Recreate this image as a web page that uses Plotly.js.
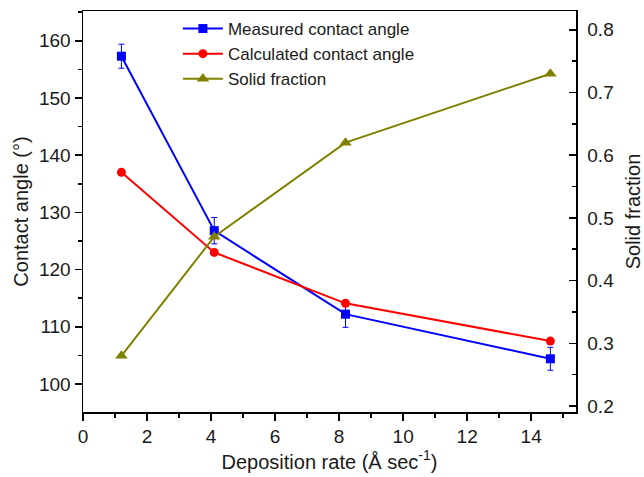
<!DOCTYPE html>
<html>
<head>
<meta charset="utf-8">
<script src="https://cdn.plot.ly/plotly-3.0.1.min.js"></script>
<style>html,body{margin:0;padding:0;background:#fff;}#chart{width:644px;height:477px;}</style>
</head>
<body>
<div id="chart"></div>
<script>
const depositionRate = [1.2, 4.1, 8.2, 14.6];
const measuredAngle = [157.3, 126.8, 112.2, 104.4];
const measuredError = [2.1, 2.3, 2.3, 2.0];
const calculatedAngle = [137.0, 123.0, 114.1, 107.5];
const solidFraction = [0.28, 0.47, 0.62, 0.73];

const font = 'Arial, "Liberation Sans", sans-serif';
const txt = '#1a1a1a';

const traces = [
  {
    x: depositionRate, y: measuredAngle, name: 'Measured contact angle',
    mode: 'lines+markers', type: 'scatter',
    line: {color: '#0000ff', width: 2},
    marker: {symbol: 'square', size: 9, color: '#0000ff'},
    error_y: {type: 'data', array: measuredError, visible: true, color: '#0000ff', thickness: 1, width: 3}
  },
  {
    x: depositionRate, y: calculatedAngle, name: 'Calculated contact angle',
    mode: 'lines+markers', type: 'scatter',
    line: {color: '#ff0000', width: 2},
    marker: {symbol: 'circle', size: 9, color: '#ff0000'}
  },
  {
    x: depositionRate, y: solidFraction, name: 'Solid fraction', yaxis: 'y2',
    mode: 'lines+markers', type: 'scatter',
    line: {color: '#808000', width: 2},
    marker: {symbol: 'triangle-up', size: 11, color: '#808000'}
  }
];

const axisCommon = {
  showgrid: false, zeroline: false, showline: true, linecolor: '#000', linewidth: 1.5,
  ticks: 'outside', ticklen: 7, tickwidth: 1.5, tickcolor: '#000',
  tickfont: {family: font, size: 19, color: txt}
};

const layout = {
  width: 644, height: 477,
  margin: {l: 83, r: 68, t: 11, b: 65},
  paper_bgcolor: '#fff', plot_bgcolor: '#fff',
  showlegend: true,
  legend: {x: 0.1925, y: 1.0, xanchor: 'left', yanchor: 'top', bgcolor: 'rgba(0,0,0,0)',
           font: {family: font, size: 17, color: txt}, tracegroupgap: 0, itemwidth: 40},
  xaxis: Object.assign({}, axisCommon, {
    range: [0, 15.4], dtick: 2, tick0: 0, mirror: true,
    minor: {dtick: 1, ticks: 'outside', ticklen: 4, tickwidth: 1.5, tickcolor: '#000'},
    title: {text: 'Deposition rate (Å sec<sup>-1</sup>)', font: {family: font, size: 20, color: txt}, standoff: 0}
  }),
  yaxis: Object.assign({}, axisCommon, {
    range: [95.1, 165.2], dtick: 10, tick0: 100,
    minor: {dtick: 5, ticks: 'outside', ticklen: 4, tickwidth: 1.5, tickcolor: '#000'},
    title: {text: 'Contact angle (°)', font: {family: font, size: 20, color: txt}, standoff: 5}
  }),
  yaxis2: Object.assign({}, axisCommon, {
    overlaying: 'y', side: 'right', ticks: 'inside', ticklabelstandoff: 6,
    range: [0.1904, 0.830], dtick: 0.1, tick0: 0.2, tickformat: '.1f',
    minor: {dtick: 0.05, ticks: 'inside', ticklen: 4, tickwidth: 1.5, tickcolor: '#000'},
    title: {text: 'Solid fraction', font: {family: font, size: 20, color: txt}, standoff: 13}
  })
};

Plotly.newPlot('chart', traces, layout, {displayModeBar: false, staticPlot: true});
</script>
</body>
</html>
